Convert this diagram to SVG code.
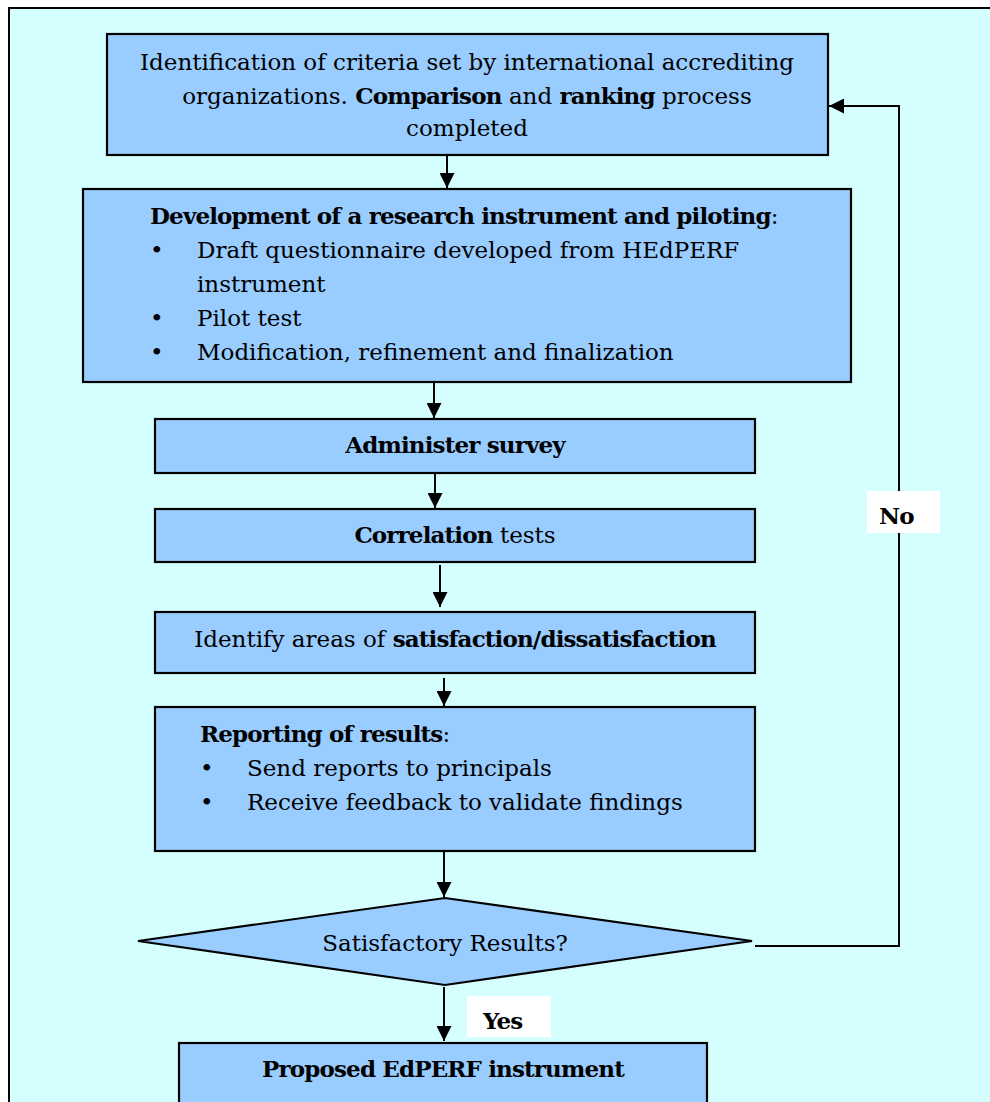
<svg xmlns="http://www.w3.org/2000/svg" width="990" height="1102" viewBox="0 0 990 1102">
<style>
.box{fill:#99CCFF;stroke:#000;stroke-width:2.2}
.t{font-family:"DejaVu Serif","Liberation Serif",serif;font-size:23px;fill:#000}
.c{text-anchor:middle}
.b{font-weight:bold;letter-spacing:-0.85px}
.con{stroke:#000;stroke-width:2;fill:none}
.lab{fill:#fff}
</style>
<defs>
<marker id="ah" viewBox="0 0 10 10" refX="10" refY="5" markerWidth="15" markerHeight="15" markerUnits="userSpaceOnUse" orient="auto">
<path d="M0,0 L10,5 L0,10 z" fill="#000"/>
</marker>
</defs>
<rect x="0" y="0" width="990" height="1102" fill="#fff"/>
<rect x="9" y="8" width="1000" height="1110" fill="#D5FFFF" stroke="#000" stroke-width="2"/>
<g id="connectors">
<line class="con" x1="447" y1="156" x2="447" y2="188" marker-end="url(#ah)"/>
<line class="con" x1="434" y1="383" x2="434" y2="418" marker-end="url(#ah)"/>
<line class="con" x1="435" y1="474" x2="435" y2="508" marker-end="url(#ah)"/>
<line class="con" x1="440" y1="565" x2="440" y2="607" marker-end="url(#ah)"/>
<line class="con" x1="444" y1="678" x2="444" y2="706" marker-end="url(#ah)"/>
<line class="con" x1="444" y1="852" x2="444" y2="897" marker-end="url(#ah)"/>
<line class="con" x1="444" y1="987" x2="444" y2="1041" marker-end="url(#ah)"/>
<polyline class="con" stroke-width="1.7" points="755,946 899,946 899,106 829,106" marker-end="url(#ah)"/>
<g id="label-no"><rect class="lab" x="867" y="491" width="73" height="42"/><text class="t b" x="879" y="524">No</text></g>
<g id="label-yes"><rect class="lab" x="467" y="996" width="84" height="41"/><text class="t b" x="483" y="1029">Yes</text></g>
</g>
<g id="n1">
<rect class="box" x="107" y="34" width="721" height="121"/>
<text class="t c" x="467" y="70">Identification of criteria set by international accrediting</text>
<text class="t c" x="467" y="104">organizations. <tspan class="b">Comparison</tspan> and <tspan class="b">ranking</tspan> process</text>
<text class="t c" x="467" y="136">completed</text>
</g>
<g id="n2">
<rect class="box" x="83" y="189" width="768" height="193"/>
<text class="t" x="150" y="224"><tspan class="b">Development of a research instrument and piloting</tspan>:</text>
<text class="t" x="150" y="258">•</text>
<text class="t" x="197" y="258">Draft questionnaire developed from HEdPERF</text>
<text class="t" x="197" y="292">instrument</text>
<text class="t" x="150" y="326">•</text>
<text class="t" x="197" y="326">Pilot test</text>
<text class="t" x="150" y="360">•</text>
<text class="t" x="197" y="360">Modification, refinement and finalization</text>
</g>
<g id="n3">
<rect class="box" x="155" y="419" width="600" height="54"/>
<text class="t c b" x="455" y="453">Administer survey</text>
</g>
<g id="n4">
<rect class="box" x="155" y="509" width="600" height="53"/>
<text class="t c" x="455" y="543"><tspan class="b">Correlation</tspan> tests</text>
</g>
<g id="n5">
<rect class="box" x="155" y="612" width="600" height="61"/>
<text class="t c" x="455" y="647">Identify areas of <tspan class="b">satisfaction/dissatisfaction</tspan></text>
</g>
<g id="n6">
<rect class="box" x="155" y="707" width="600" height="144"/>
<text class="t" x="200" y="742"><tspan class="b">Reporting of results</tspan>:</text>
<text class="t" x="200" y="776">•</text>
<text class="t" x="247" y="776">Send reports to principals</text>
<text class="t" x="200" y="810">•</text>
<text class="t" x="247" y="810">Receive feedback to validate findings</text>
</g>
<g id="n7">
<polygon class="box" points="138,941 445,898 752,941 445,985"/>
<text class="t c" x="445" y="951">Satisfactory Results?</text>
</g>
<g id="n8">
<rect class="box" x="179" y="1043" width="528" height="80"/>
<text class="t c b" x="443" y="1077">Proposed EdPERF instrument</text>
</g>
</svg>
